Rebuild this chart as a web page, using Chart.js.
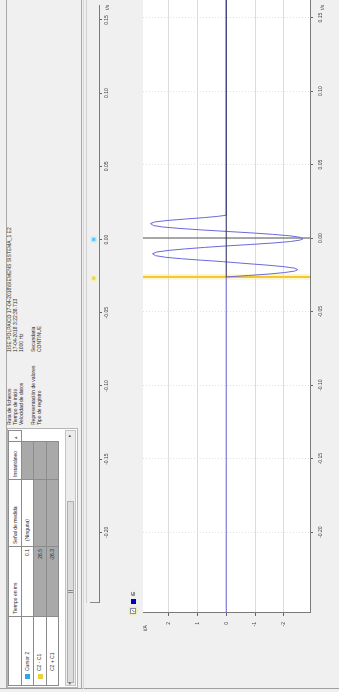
<!DOCTYPE html>
<html>
<head>
<meta charset="utf-8">
<title>iE</title>
<script src="https://cdn.jsdelivr.net/npm/chart.js@4.4.1/dist/chart.umd.min.js"></script>
<style>
html, body { margin:0; padding:0; width:339px; height:692px; overflow:hidden; background:#f0f0f0; }
/* the viewer window is laid out landscape and turned a quarter turn */
#screen { position:absolute; left:0; top:0; width:692px; height:339px; transform-origin:0 0;
  transform:translate(0px,692px) rotate(-90deg); background:#f0f0f0;
  font-family:"Liberation Sans", Arial, sans-serif; font-size:5px; color:#2a2a2a; overflow:hidden; }
.a { position:absolute; white-space:nowrap; line-height:6px; }
.ln { position:absolute; }
#tblBox { position:absolute; left:4px; top:7px; width:260px; height:71px; background:#fff; border:1px solid #b4b4b4; box-sizing:border-box; }
#tbl { position:absolute; left:1px; top:0px; border-collapse:collapse; table-layout:fixed; }
#tbl td { border:1px solid #8c8c8c; padding:0 2px; white-space:nowrap; overflow:hidden; font-size:5px; line-height:5px; color:#2a2a2a; }
#tbl td.g { background:#a9a9a9; }
#tbl td.r { text-align:right; }
.ico { display:inline-block; width:5px; height:5px; margin-right:3px; vertical-align:middle; }
canvas { position:absolute; }
</style>
</head>
<body>
<div id="screen">
  <!-- frame lines -->
  <div class="ln" style="left:3px;top:0;width:1px;height:339px;background:#a0a0a0"></div>
  <div class="ln" style="left:3px;top:6px;width:689px;height:1px;background:#a8a8a8"></div>
  <div class="ln" style="left:3px;top:81px;width:689px;height:1px;background:#a8a8a8"></div>
  <div class="ln" style="left:3px;top:83px;width:689px;height:1px;background:#d8d8d8"></div>
  <div class="ln" style="left:89px;top:86px;width:603px;height:1px;background:#d0d0d0"></div>
  <div class="ln" style="left:89px;top:90px;width:1px;height:10px;background:#8a8a8a"></div>

  <div id="tblBox">
    <table id="tbl"><colgroup id="cols"></colgroup><tbody id="tbody"></tbody></table>
    <!-- table scroll bar -->
    <div class="ln" style="left:1px;top:57px;width:256px;height:11px;background:#ececec;border:1px solid #c4c4c4;box-sizing:border-box"></div>
    <div class="ln" style="left:4px;top:59px;width:182px;height:7px;background:#dcdcdc;border:1px solid #b0b0b0;box-sizing:border-box"></div>
    <div class="ln" style="left:94px;top:60px;width:1px;height:5px;background:#8a8a8a"></div>
    <div class="ln" style="left:96px;top:60px;width:1px;height:5px;background:#8a8a8a"></div>
    <div class="a" style="left:2px;top:58px;color:#555">&#9666;</div>
    <div class="a" style="left:250px;top:58px;color:#555">&#9656;</div>
  </div>

  <div id="info"></div>

  <canvas id="ruler" width="652" height="37" style="left:40px;top:83px"></canvas>
  <canvas id="plot" width="652" height="219" style="left:40px;top:120px"></canvas>

  <div class="a" style="left:682px;top:319px;color:#444">t/s</div>
  <div class="a" style="left:682px;top:104px;color:#444">t/s</div>

  <!-- legend and unit -->
  <div class="ln" style="left:78px;top:130px;width:6px;height:6px;background:#fff;border:1px solid #7f8ea6;box-sizing:border-box;box-shadow:0 0 2px 1px rgba(245,232,150,0.9)"></div>
  <div class="a" style="left:78.5px;top:130px;color:#2040a0;font-size:5px">&#10003;</div>
  <div class="ln" style="left:88px;top:131px;width:5px;height:5px;background:#0000c8"></div>
  <div class="a" id="legendText" style="left:96px;top:130px;color:#333"></div>
  <div class="a" id="unitText" style="left:61px;top:142px;color:#333"></div>
</div>

<script>
// ---- recording info ----
const infoLabels = ['Ruta de ficheros', 'Tiempo de inicio', 'Velocidad de datos', 'Representación de valores', 'Tipo de registro'];
const infoValues = ['1\\SE POLPAICO 17-04-2018\\SIEMENS SISTEMA_1 E2', '17-04-2018 3:22:38.713', '1000 Hz', 'Secundaria', 'CONTINUE'];

// ---- cursor table ----
const tableHeaders = ['', 'Tiempo en ms', 'Señal de medida', 'Instantáneo', '\u25B4'];
const rowNames = ['Cursor 2', 'C2 - C1', 'C2 + C1'];
const rowTimes = ['0.1', '26.5', '-26.3'];
const rowSignals = ['(Ninguna)', '', ''];

// ---- signal ----
const signalName = 'iE';
const unitLabel = 'i/A';
const timeTicks = [-0.20, -0.15, -0.10, -0.05, 0.00, 0.05, 0.10, 0.15];
const valueTicks = [-2, -1, 0, 1, 2];
const timeMin = -0.255, timeMax = 0.162;
const rulerMin = -0.2483, rulerMax = 0.1599;
const valueMin = -2.9, valueMax = 2.88;
const cursor1Time = -0.0264;
const cursor2Time = 0.0001;

const iETime = [-0.255, -0.0264, -0.0254, -0.0244, -0.0234, -0.0224, -0.0214, -0.0204, -0.0194, -0.0184,
  -0.0172, -0.0160, -0.0150, -0.0140, -0.0130, -0.0119, -0.0106, -0.0094, -0.0083, -0.0073,
  -0.0063, -0.0053, -0.0043, -0.0033, -0.0023, -0.0013, -0.0004, 0.0006, 0.0016, 0.0026,
  0.0036, 0.0046, 0.0056, 0.0066, 0.0076, 0.0086, 0.0099, 0.0110, 0.0120, 0.0130,
  0.0140, 0.0148, 0.0156, 0.162];
const iEValue = [0, 0, -0.78, -1.48, -2.02, -2.37, -2.48, -2.36, -2.0, -1.45,
  -0.65, 0.1, 0.85, 1.55, 2.1, 2.45, 2.55, 2.4, 1.98, 1.42,
  0.75, 0.0, -0.85, -1.62, -2.22, -2.56, -2.66, -2.55, -2.2, -1.6,
  -0.85, 0.0, 0.85, 1.6, 2.2, 2.52, 2.62, 2.48, 2.05, 1.42,
  0.75, 0.3, 0.0, 0];

// ---- build info block ----
const infoLineTops = [6, 12, 18, 30, 36];
const info = document.getElementById('info');
infoLabels.forEach((t, i) => {
  const l = document.createElement('div');
  l.className = 'a'; l.style.left = '267px'; l.style.top = infoLineTops[i] + 'px'; l.textContent = t;
  info.appendChild(l);
  const v = document.createElement('div');
  v.className = 'a'; v.style.left = '340px'; v.style.top = infoLineTops[i] + 'px'; v.textContent = infoValues[i];
  info.appendChild(v);
});

// ---- build table ----
const colWidths = [69, 70, 67, 38, 11];
const rowHeights = [13, 12, 13, 12];
const cols = document.getElementById('cols');
colWidths.forEach(w => { const c = document.createElement('col'); c.style.width = w + 'px'; cols.appendChild(c); });
const tb = document.getElementById('tbody');
const hr = document.createElement('tr');
tableHeaders.forEach((h, i) => {
  const td = document.createElement('td'); td.textContent = h; td.style.height = (rowHeights[0] - 1) + 'px';
  if (i === 4) td.style.color = '#666';
  hr.appendChild(td);
});
tb.appendChild(hr);
const iconColors = ['#2aa8e8', '#e8d040', null];
rowNames.forEach((n, r) => {
  const tr = document.createElement('tr');
  const c0 = document.createElement('td');
  c0.style.height = (rowHeights[r + 1] - 1) + 'px';
  if (iconColors[r]) { const ic = document.createElement('span'); ic.className = 'ico'; ic.style.background = iconColors[r]; c0.appendChild(ic); c0.style.paddingLeft = '6px'; }
  else c0.style.paddingLeft = '14px';
  c0.appendChild(document.createTextNode(n));
  tr.appendChild(c0);
  const c1 = document.createElement('td'); c1.className = 'r' + (r > 0 ? ' g' : ''); c1.textContent = rowTimes[r]; tr.appendChild(c1);
  const c2 = document.createElement('td'); c2.className = r > 0 ? 'g' : ''; c2.textContent = rowSignals[r]; c2.style.paddingLeft = '5px'; tr.appendChild(c2);
  const c3 = document.createElement('td'); c3.className = 'g'; tr.appendChild(c3);
  const c4 = document.createElement('td'); c4.style.border = 'none'; tr.appendChild(c4);
  tb.appendChild(tr);
});

document.getElementById('legendText').textContent = signalName;
document.getElementById('unitText').textContent = unitLabel;

// ---- charts ----
const FONT = { family: "'Liberation Sans', Arial, sans-serif", size: 5 };
const fmtTime = v => Number(v).toFixed(2);

const plotBg = {
  id: 'plotBg',
  beforeDraw(c) {
    const { ctx, chartArea: a } = c;
    ctx.save();
    ctx.fillStyle = '#ffffff';
    ctx.fillRect(a.left, a.top, a.right - a.left, a.bottom - a.top);
    ctx.restore();
  }
};

const iEPoints = iETime.map((t, i) => ({ x: t, y: iEValue[i] }));

new Chart(document.getElementById('plot'), {
  type: 'line',
  data: {
    datasets: [
      { label: 'ref', data: [{ x: cursor1Time, y: 0 }, { x: timeMax, y: 0 }], borderColor: '#2c2c64', borderWidth: 1, pointRadius: 0, order: 0 },
      { label: signalName, data: iEPoints, borderColor: '#6a6adc', borderWidth: 1, pointRadius: 0, tension: 0, order: 1 },
      { label: 'C2', data: [{ x: cursor2Time, y: valueMin }, { x: cursor2Time, y: valueMax }], borderColor: '#555555', borderWidth: 1, pointRadius: 0, order: 2 },
      { label: 'C1', data: [{ x: cursor1Time, y: valueMin }, { x: cursor1Time, y: valueMax }], borderColor: '#f0c832', borderWidth: 2, pointRadius: 0, order: 3 },
      { label: 'C1 halo', data: [{ x: cursor1Time, y: valueMin }, { x: cursor1Time, y: valueMax }], borderColor: 'rgba(250,228,120,0.35)', borderWidth: 6, pointRadius: 0, order: 4 }
    ]
  },
  options: {
    responsive: false,
    animation: false,
    devicePixelRatio: 1,
    layout: { padding: { top: 23, left: 0, right: 0, bottom: 0 } },
    plugins: { legend: { display: false }, tooltip: { enabled: false } },
    scales: {
      x: {
        type: 'linear', position: 'bottom', min: timeMin, max: timeMax,
        afterBuildTicks: s => { s.ticks = timeTicks.map(v => ({ value: v })); },
        afterFit: s => { s.height = 29; },
        ticks: { font: FONT, color: '#444', padding: 5, autoSkip: false, maxRotation: 0, callback: fmtTime },
        grid: { color: '#e2e2e2', tickLength: 3, tickColor: '#666', drawTicks: true },
        border: { color: '#7a7a7a', dash: [1, 2] }
      },
      y: {
        type: 'linear', position: 'left', min: valueMin, max: valueMax,
        afterBuildTicks: s => { s.ticks = valueTicks.map(v => ({ value: v })); },
        afterFit: s => { s.width = 39; },
        ticks: { font: FONT, color: '#444', padding: 6, callback: v => String(v) },
        grid: { color: '#dcdcdc', tickLength: 3, tickColor: '#666' },
        border: { color: '#7a7a7a' }
      }
    }
  },
  plugins: [plotBg]
});

new Chart(document.getElementById('ruler'), {
  type: 'line',
  data: {
    datasets: [
      { label: 'C2', data: [{ x: cursor2Time, y: 0.5 }], showLine: false, pointStyle: 'rect', pointRadius: 3.2,
        backgroundColor: '#5cc4f0', borderColor: 'rgba(190,232,250,0.95)', borderWidth: 1.5 },
      { label: 'C1', data: [{ x: cursor1Time, y: 0.5 }], showLine: false, pointStyle: 'rect', pointRadius: 3.2,
        backgroundColor: '#e6d44a', borderColor: 'rgba(248,240,180,0.95)', borderWidth: 1.5 }
    ]
  },
  options: {
    responsive: false,
    animation: false,
    devicePixelRatio: 1,
    layout: { padding: { top: 0, left: 49, right: 3, bottom: 0 } },
    plugins: { legend: { display: false }, tooltip: { enabled: false } },
    scales: {
      x: {
        type: 'linear', position: 'bottom', min: rulerMin, max: rulerMax,
        afterBuildTicks: s => { s.ticks = timeTicks.map(v => ({ value: v })); },
        afterFit: s => { s.height = 21; },
        ticks: { font: FONT, color: '#444', padding: 2, autoSkip: false, maxRotation: 0, callback: fmtTime },
        grid: { drawOnChartArea: false, tickLength: 3, tickColor: '#666' },
        border: { color: '#7a7a7a' }
      },
      y: { display: false, min: 0, max: 1 }
    }
  }
});
</script>
</body>
</html>
